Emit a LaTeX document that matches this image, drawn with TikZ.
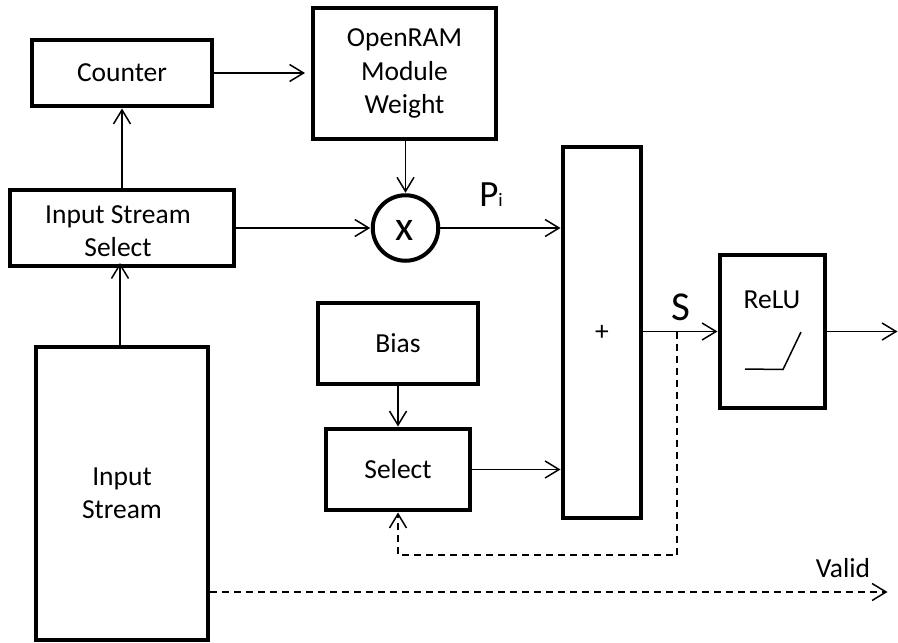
\documentclass[tikz,border=0pt]{standalone}
\usepackage{fontspec}
\setmainfont{Carlito}
\usetikzlibrary{arrows.meta,positioning,calc}
\begin{document}
\begin{tikzpicture}[x=1pt,y=-1pt,font=\fontsize{27.5}{33.5}\selectfont]
  \tikzset{box/.style={draw,line width=4pt,inner sep=0pt,align=center},
           lbl/.style={inner sep=0pt,align=center},
           wire/.style={-{Straight Barb[length=14pt,width=17pt,line width=1.5pt]},line width=1.7pt,shorten >=0.5pt},
           dashwire/.style={wire,dash pattern=on 7pt off 5pt}}
  \useasboundingbox (0,0) rectangle (898,643);

  \node[box,minimum width=180,minimum height=66] (counter) at (122,73) {Counter};
  \node[box,minimum width=183,minimum height=131] (ram) at (404.5,73.5) {OpenRAM\\Module\\Weight};
  \node[box,minimum width=224,minimum height=76] (select) at (122,228) {};
  \node[lbl] (selectlbl) at (118,231) {Input Stream\\Select};
  \node[box,circle,minimum size=65.5] (mul) at (405.5,228) {};
  \node[lbl,font=\fontsize{42}{44}\selectfont] (mullbl) at (405,230) {x};
  \node[box,minimum width=78,minimum height=371] (add) at (602,332.5) {+};
  \node[box,minimum width=172,minimum height=293] (stream) at (122,493.5) {Input\\Stream};
  \node[box,minimum width=160,minimum height=81] (bias) at (398,343.5) {Bias};
  \node[box,minimum width=144,minimum height=81] (sel) at (398,469.5) {Select};
  \node[box,minimum width=105,minimum height=153] (relu) at (772.5,331.5) {};
  \node[lbl] (relulbl) at (772,300) {ReLU};
  \node[lbl,font=\fontsize{37}{40}\selectfont] (pi) at (491,195) {P{\fontsize{19}{19}\selectfont i}};
  \node[lbl,font=\fontsize{41}{42}\selectfont] (s) at (680.5,307) {S};
  \node[lbl] (valid) at (843,568) {Valid};

  \coordinate (up) at (120,347);
  \coordinate (out) at (898,331.5);
  \coordinate (validend) at (888,592);
  \coordinate (tap) at (677,331.5);
  \coordinate (bend) at (677,555);
  \coordinate (ru1) at (745,369);
  \coordinate (ru2) at (783,369.5);
  \coordinate (ru3) at (801,332);

  \draw[wire,shorten >=6pt] (counter.east) -- (ram.west |- counter.east);
  \draw[wire] (ram.south -| mul) -- (mul);
  \draw[wire] (select) -- (counter);
  \draw[wire] (select.east) -- (mul.west);
  \draw[wire] (mul.east) -- (add.west |- mul.east);
  \draw[wire,shorten >=-5pt] (stream.north -| up) -- (select.south -| up);
  \draw[wire] (bias) -- (sel);
  \draw[wire] (sel.east) -- (add.west |- sel.east);
  \draw[wire] (add.east |- tap) -- (relu.west |- tap);
  \draw[wire] (relu.east |- out) -- (out);
  \draw[dashwire] (tap) -- (bend) -- (bend -| sel) -- (sel.south);
  \draw[dashwire] (stream.east |- validend) -- (validend);
  \draw[line width=1.5pt] (ru1) -- (ru2) -- (ru3);
\end{tikzpicture}
\end{document}
